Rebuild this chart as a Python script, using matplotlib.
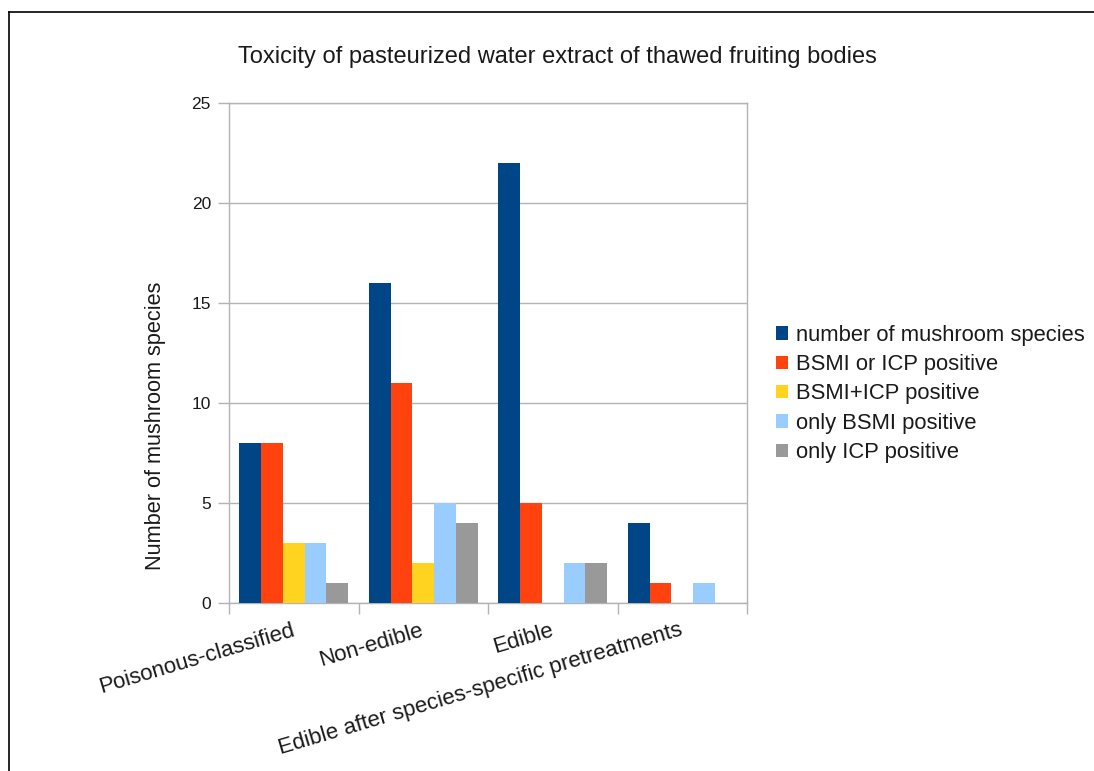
import matplotlib
matplotlib.use("Agg")
import matplotlib.pyplot as plt
import matplotlib.transforms as mtransforms
import numpy as np
from matplotlib.lines import Line2D

plt.rcParams['font.family'] = ['Liberation Sans', 'DejaVu Sans']

categories = ["Poisonous-classified", "Non-edible", "Edible",
              "Edible after species-specific pretreatments"]
series_names = ["number of mushroom species", "BSMI or ICP positive",
                "BSMI+ICP positive", "only BSMI positive", "only ICP positive"]
number_of_species = [8, 16, 22, 4]
bsmi_or_icp = [8, 11, 5, 1]
bsmi_and_icp = [3, 2, 0, 0]
only_bsmi = [3, 5, 2, 1]
only_icp = [1, 4, 2, 0]
series_values = [number_of_species, bsmi_or_icp, bsmi_and_icp, only_bsmi, only_icp]
colors = ["#004586", "#ff420e", "#ffd320", "#99ccff", "#999999"]
y_ticks = [0, 5, 10, 15, 20, 25]

W, H = 1094, 771
fig = plt.figure(figsize=(W / 100, H / 100), dpi=100)
ax = fig.add_axes([229 / W, 1 - 603 / H, (747 - 229) / W, (603 - 103) / H])

grid_c = "#b3b3b3"
text_c = "#1a1a1a"
x = np.arange(len(categories))
n = len(series_values)
group_w = 0.842
bw = group_w / n
for i, (name, vals, c) in enumerate(zip(series_names, series_values, colors)):
    ax.bar(x - group_w / 2 + bw * (i + 0.5), vals, width=bw, color=c,
           label=name, linewidth=0, zorder=3)

ax.set_xlim(-0.5, len(categories) - 0.5)
ax.set_ylim(0, 25)
ax.set_yticks(y_ticks)
ax.yaxis.grid(True, color=grid_c, linewidth=1, zorder=0)
ax.set_axisbelow(True)
for s in ax.spines.values():
    s.set_color(grid_c)
    s.set_linewidth(1)
ax.tick_params(axis='y', direction='out', length=8, color=grid_c, width=1,
               labelsize=12.5, pad=5, labelcolor=text_c)

ax.set_xticks(x)
ax.set_xticks(np.arange(-0.5, len(categories)), minor=True)
ax.tick_params(axis='x', which='major', length=0, pad=12)
ax.tick_params(axis='x', which='minor', direction='out', length=8, color=grid_c, width=1)
ax.set_xticklabels(categories, rotation=16.5, ha='right', va='top',
                   rotation_mode='anchor', fontsize=16, color=text_c)
shift = mtransforms.ScaledTranslation(-3 / 100, 0, fig.dpi_scale_trans)
for lbl in ax.get_xticklabels():
    lbl.set_transform(lbl.get_transform() + shift)

fig.text(155 / W, 1 - 426 / H, "Number of mushroom species", rotation=90,
         ha='center', va='center', fontsize=15.7, color=text_c)
fig.text(557 / W, 1 - 63 / H,
         "Toxicity of pasteurized water extract of thawed fruiting bodies",
         ha='center', va='baseline', fontsize=17, color=text_c)

leg = fig.legend(loc='center left', bbox_to_anchor=(776 / W, 1 - 394 / H),
                 frameon=False, fontsize=15.8, handlelength=0.56,
                 handleheight=0.56, handletextpad=0.35, labelspacing=0.38,
                 borderpad=0, borderaxespad=0)
for t in leg.get_texts():
    t.set_color(text_c)

fig.add_artist(Line2D([9 / W, 1], [1 - 12 / H, 1 - 12 / H], color='black',
                      linewidth=1.2, transform=fig.transFigure))
fig.add_artist(Line2D([9 / W, 9 / W], [0, 1 - 12 / H], color='black',
                      linewidth=1.2, transform=fig.transFigure))

fig.savefig("out.png", dpi=100, facecolor='white')
